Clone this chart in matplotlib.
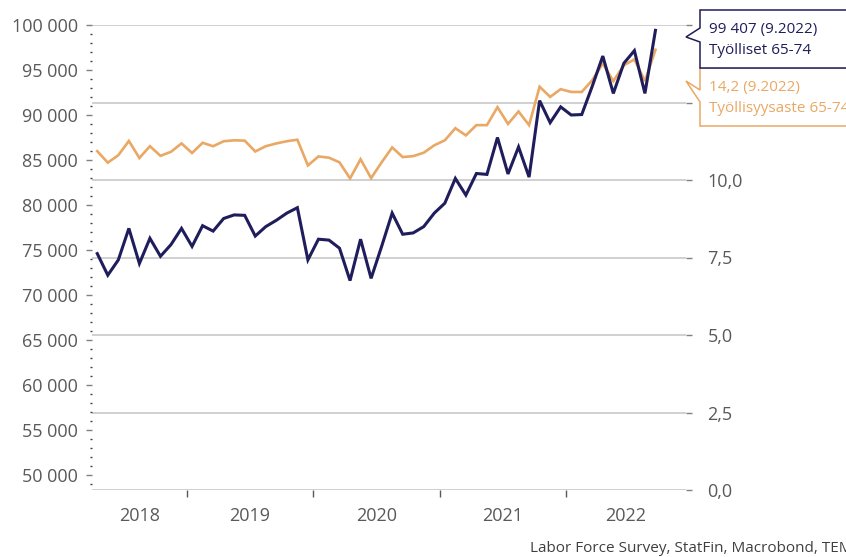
import numpy as np
import pandas as pd
import matplotlib
matplotlib.use('Agg')
import matplotlib.pyplot as plt
from matplotlib.ticker import MultipleLocator, FuncFormatter, FixedLocator
from matplotlib.patches import Polygon

plt.rcParams['font.family'] = ['Open Sans', 'DejaVu Sans']

###############################################################################
#                                    Data                                     #
###############################################################################
#=== Monthly, 4.2018 - 9.2022 ===#
months = pd.period_range('2018-04', '2022-09', freq='M')

# Työlliset 65-74 (left axis, persons)
employed = [74600, 72200, 73900, 77400, 73500, 76300, 74300, 75600, 77400,
            75400, 77700, 77100, 78500, 78900, 78850, 76550, 77600, 78300, 79100, 79700, 73900,
            76200, 76100, 75200, 71600, 76200, 71850, 75400, 79100, 76750, 76900, 77600, 79100,
            80200, 82950, 81100, 83500, 83400, 87500, 83450, 86450, 83100, 91600, 89150, 90900,
            90000, 90050, 93200, 96550, 92400, 95750, 97150, 92400, 99407]

# Työllisyysaste 65-74 (right axis, %)
emp_rate = [10.93, 10.56, 10.80, 11.26, 10.71, 11.09, 10.78, 10.91, 11.18,
            10.87, 11.20, 11.09, 11.25, 11.28, 11.27, 10.92, 11.09, 11.18, 11.25, 11.30, 10.47,
            10.76, 10.72, 10.57, 10.05, 10.67, 10.06, 10.57, 11.05, 10.74, 10.77, 10.88, 11.12,
            11.28, 11.67, 11.44, 11.77, 11.77, 12.35, 11.81, 12.21, 11.77, 13.01, 12.68, 12.93,
            12.84, 12.84, 13.22, 13.76, 13.19, 13.70, 13.89, 13.19, 14.2]

years = [2018, 2019, 2020, 2021, 2022]
label_employed = 'Työlliset 65-74'
label_rate = 'Työllisyysaste 65-74'
source = 'Labor Force Survey, StatFin, Macrobond, TEM'

navy = '#1f1d5b'
orange = '#e9a864'
grey_txt = '#595959'
grey_tick = '#808080'

###############################################################################
#                                   Figure                                    #
###############################################################################
W, H = 846, 557
fig = plt.figure(figsize=(W / 100, H / 100), dpi=100)

def px(x, y):
    return (x / W, 1 - y / H)

ax = fig.add_axes([92 / W, 1 - 490 / H, (686 - 92) / W, (490 - 25) / H])
ax2 = ax.twinx()
ax.set_zorder(ax2.get_zorder() + 1)
ax.patch.set_visible(False)

# month position: months since 1.2018, centred in month
x = (months.year - 2018) * 12 + months.month - 1 + 0.5

ax2.plot(x, emp_rate, color=orange, lw=1.9, solid_joinstyle='miter')
ax.plot(x, employed, color=navy, lw=2.2, solid_joinstyle='miter')

#=== Axes limits ===#
x_lo, x_hi = 3, 59.4
ax.set_xlim(x_lo, x_hi)
ax.set_ylim(100000 - 465 * 1000 / 9, 100000)
ax2.set_ylim(0, 15)

for a in (ax, ax2):
    for s in a.spines.values():
        s.set_visible(False)

#=== Left axis ===#
ax.yaxis.set_major_locator(MultipleLocator(5000))
ax.yaxis.set_minor_locator(MultipleLocator(1000))
ax.yaxis.set_major_formatter(FuncFormatter(lambda v, p: f'{v:,.0f}'.replace(',', ' ')))
ax.tick_params(axis='y', which='major', length=4, width=1, color=grey_tick,
               labelsize=13, labelcolor=grey_txt, pad=6)
ax.tick_params(axis='y', which='minor', length=1.6, width=1, color='#404040')

#=== Right axis (labels above 10 sit under the callouts) ===#
ax2.yaxis.set_major_locator(MultipleLocator(2.5))
ax2.yaxis.set_major_formatter(FuncFormatter(
    lambda v, p: f'{v:.1f}'.replace('.', ',') if v <= 10 else ''))
ax2.tick_params(axis='y', which='major', length=4.5, width=1, color=grey_tick,
                labelsize=13, labelcolor=grey_txt, pad=11)
ax2.yaxis.grid(True, color='#c8c8c8', lw=1.2)
ax2.set_axisbelow(True)

#=== X axis: year boundaries and centred year labels ===#
bounds = [(y - 2018) * 12 for y in years]
ax.xaxis.set_major_locator(FixedLocator(bounds[1:]))
ax.xaxis.set_major_formatter(FuncFormatter(lambda v, p: ''))
mids = [(max(b, x_lo) + min(b + 12, x_hi)) / 2 for b in bounds]
ax.xaxis.set_minor_locator(FixedLocator(mids))
ax.xaxis.set_minor_formatter(FuncFormatter(lambda v, p: str(years[p])))
ax.tick_params(axis='x', which='major', length=5, width=1, color=grey_txt)
ax.tick_params(axis='x', which='minor', length=0, labelsize=13, labelcolor=grey_txt, pad=12)
ax2.tick_params(axis='x', which='both', length=0, labelbottom=False)

###############################################################################
#                                 Annotations                                 #
###############################################################################
box_rate = Polygon([px(700, 68), px(860, 68), px(860, 126), px(700, 126),
                    px(700, 102), px(686, 81), px(700, 90)], closed=True,
                   transform=fig.transFigure, facecolor='white', edgecolor=orange, lw=1.1)
box_emp = Polygon([px(700, 10), px(860, 10), px(860, 68), px(700, 68),
                   px(700, 42), px(686, 37), px(700, 28)], closed=True,
                  transform=fig.transFigure, facecolor='white', edgecolor=navy, lw=1.1)
fig.patches.extend([box_rate, box_emp])

last = months[-1]
stamp = f'({last.month}.{last.year})'
fig.text(*px(709, 30), f'{employed[-1]:,} {stamp}'.replace(',', ' '), color=navy,
         fontsize=11, va='center', ha='left')
fig.text(*px(709, 51), label_employed, color=navy, fontsize=11, va='center', ha='left')
fig.text(*px(709, 88), f'{emp_rate[-1]:.1f}'.replace('.', ',') + ' ' + stamp, color=orange,
         fontsize=11, va='center', ha='left')
fig.text(*px(709, 109), label_rate, color=orange, fontsize=11, va='center', ha='left')

fig.text(*px(530, 548), source, color='#404040', fontsize=11, va='center', ha='left')

plt.savefig('out.png', dpi=100)
